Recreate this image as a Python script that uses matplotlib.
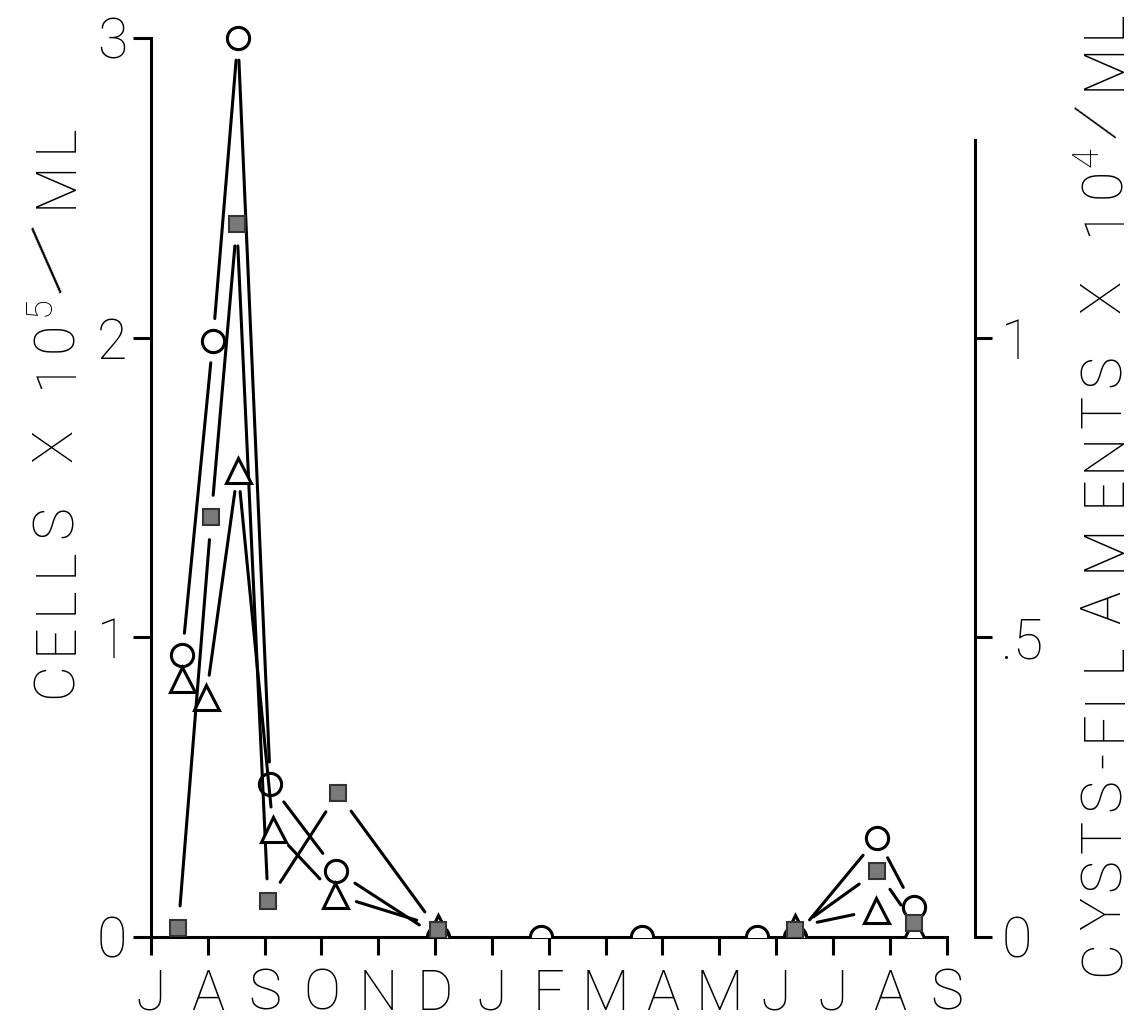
import numpy as np
import matplotlib.pyplot as plt

plt.rcParams['font.family'] = ['Roboto', 'DejaVu Sans']
plt.rcParams['font.weight'] = 'light'

W, H = 1135, 1019

months = ['J', 'A', 'S', 'O', 'N', 'D', 'J', 'F', 'M', 'A', 'M', 'J', 'J', 'A', 'S']

# cells x 10^5/ml (left axis) - open circles
cell_x = [0.55, 1.09, 1.53, 2.10, 3.26, 5.05, 6.87, 8.64, 10.67, 11.34, 12.78, 13.42]
cell_y = [0.94, 1.99, 3.00, 0.51, 0.22, 0.0, 0.0, 0.0, 0.0, 0.0, 0.33, 0.10]

# cysts x 10^4/ml (right axis) - shaded squares
cyst_x = [0.48, 1.06, 1.51, 2.06, 3.29, 5.05, 11.34, 12.78, 13.42]
cyst_y = [0.015, 0.70, 1.19, 0.06, 0.24, 0.012, 0.012, 0.11, 0.023]

# filaments x 10^4/ml (right axis) - open triangles
fil_x = [0.55, 0.97, 1.53, 2.15, 3.24, 5.05, 11.34, 12.75, 13.42]
fil_y = [0.43, 0.40, 0.78, 0.18, 0.07, 0.017, 0.017, 0.045, 0.012]

# stencil-style axis titles: letters and their positions along the axis (px)
left_chars = ['C', 'E', 'L', 'L', 'S', 'X', '1', '0', 'M', 'L']
left_pos = [680, 638, 600, 562, 522, 445, 373, 337, 184, 138]
left_sup = ('5', 306)
left_slash = 262
right_chars = ['C', 'Y', 'S', 'T', 'S', '-', 'F', 'I', 'L', 'A', 'M', 'E', 'N', 'T', 'S',
               'X', '1', '0', 'M', 'L']
right_pos = [958, 913, 875, 836, 795, 760, 725, 697, 657, 607, 547, 490, 451, 411, 371,
             296, 220, 183, 66, 24]
right_sup = ('4', 157)
right_slash = 121

LW = 2.2
GAP = 16  # points left blank around each marker
FS = 40


def draw_links(axis, xs, ys, gap=GAP):
    # hand-drawn style: segments stop short of the markers
    pts = axis.transData.transform(np.column_stack([xs, ys]))
    for i in range(len(xs) - 1):
        if ys[i] < 0.03 and ys[i + 1] < 0.03:
            continue
        if np.hypot(*(pts[i + 1] - pts[i])) < 2 * gap * 100 / 72 + 4:
            continue
        axis.annotate('', xy=(xs[i + 1], ys[i + 1]), xytext=(xs[i], ys[i]),
                      arrowprops=dict(arrowstyle='-', lw=LW, color='black',
                                      shrinkA=gap, shrinkB=gap), zorder=1)


def letter_label(chars, pos, base_x, sup, slash, slash_size, slash_rot):
    for ch, y in zip(chars, pos):
        fig.text(base_x / W, 1 - y / H, ch, rotation=90, rotation_mode='anchor',
                 ha='center', va='baseline', fontsize=FS)
    fig.text((base_x - 22) / W, 1 - sup[1] / H, sup[0], rotation=90, rotation_mode='anchor',
             ha='center', va='baseline', fontsize=FS * 0.65)
    fig.text((base_x - 22) / W, 1 - slash / H, '/', rotation=slash_rot, rotation_mode='anchor',
             ha='center', va='center', fontsize=slash_size)


fig = plt.figure(figsize=(W / 100, H / 100), dpi=100)
ax = fig.add_axes([151 / W, 82 / H, 824 / W, 929 / H])
ax2 = ax.twinx()

ax.set_xlim(0, 14.5)
ax.set_ylim(0, 3.1)
ax2.set_ylim(0, 1.55)

for s in ['top', 'right']:
    ax.spines[s].set_visible(False)
for s in ['top', 'left', 'bottom']:
    ax2.spines[s].set_visible(False)
ax.spines['bottom'].set_bounds(0, 14)
ax.spines['left'].set_bounds(0, 3)
ax2.spines['right'].set_bounds(0, 1.33)
for sp in [ax.spines['bottom'], ax.spines['left'], ax2.spines['right']]:
    sp.set_linewidth(LW)

ax.set_xticks(range(len(months)))
ax.set_xticklabels(months)
ax.set_yticks([0, 1, 2, 3])
ax.set_yticklabels(['0', '1', '2', '3'])
ax2.set_yticks([0, 0.5, 1])
ax2.set_yticklabels(['0', '.5', '1'])

ax.tick_params(axis='x', direction='out', length=13, width=LW, labelsize=FS, pad=9)
ax.tick_params(axis='y', direction='out', length=13, width=LW, labelsize=FS, pad=4)
ax2.tick_params(axis='y', direction='out', length=12, width=LW, labelsize=FS, pad=7)

draw_links(ax, cell_x, cell_y)
draw_links(ax2, fil_x, fil_y)
draw_links(ax2, cyst_x, cyst_y)

ax.plot(cell_x, cell_y, 'o', ms=16, mfc='white', mec='black', mew=LW, zorder=3)
ax2.plot(fil_x, fil_y, '^', ms=18, mfc='white', mec='black', mew=LW, zorder=3)
ax2.plot(cyst_x, cyst_y, 's', ms=12, mfc='#7a7a7a', mec='#333333', mew=1.5, zorder=4)

letter_label(left_chars, left_pos, 72, left_sup, left_slash, 62, 45)
letter_label(right_chars, right_pos, 1120, right_sup, right_slash, 44, 75)

fig.savefig('out.png', dpi=100)
